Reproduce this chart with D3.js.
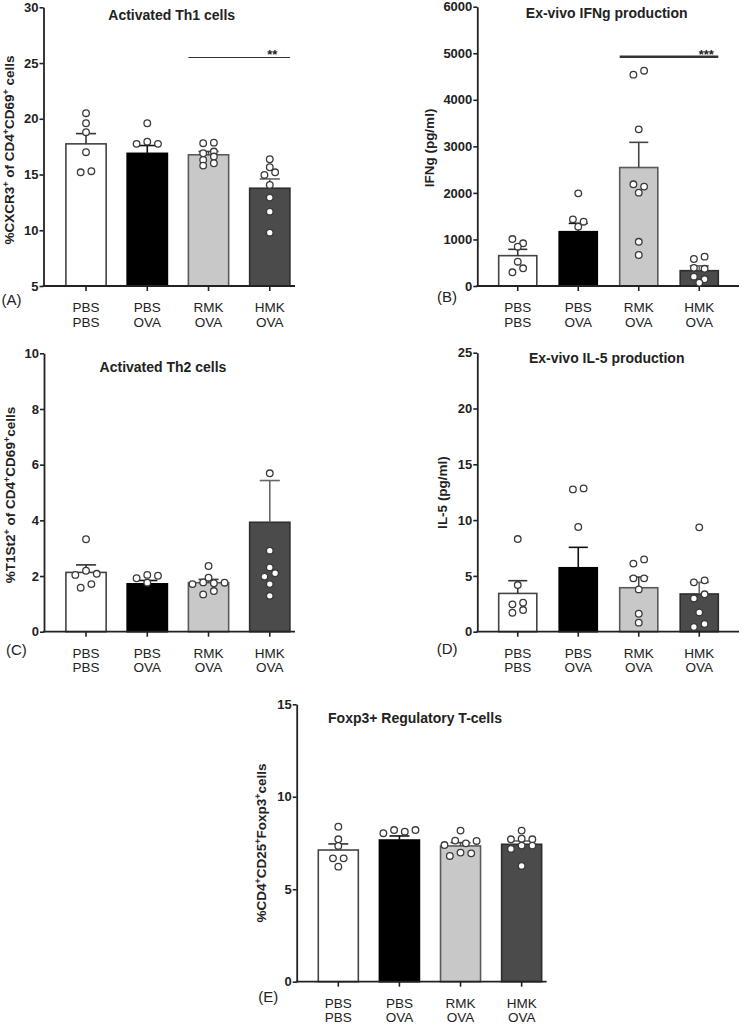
<!DOCTYPE html>
<html><head><meta charset="utf-8">
<script src="https://cdn.jsdelivr.net/npm/d3@7"></script>
<style>
body{margin:0;background:#fff}
svg{display:block}
text{font-family:"Liberation Sans",Arial,Helvetica,sans-serif;fill:#222}
</style>
</head><body>
<svg id="chart" width="742" height="1024"></svg>
<script>
// ---------- DATA ----------
const groupIds = ["PBS/PBS", "PBS/OVA", "RMK/OVA", "HMK/OVA"];
const groupsTop = ["PBS", "PBS", "RMK", "HMK"];
const groupsBottom = ["PBS", "OVA", "OVA", "OVA"];

// (A) Activated Th1 cells
const titleA = "Activated Th1 cells";
const yLabelA = "%CXCR3^+ of CD4^+CD69^+ cells";
const ticksA = [5, 10, 15, 20, 25, 30];
const meanA = [17.75, 16.9, 16.77, 13.77];
const semA = [0.92, 0.7, 0.3, 0.83];
const pointsA = [
  [20.5, 19.6, 18.8, 17.0, 15.2, 15.3],
  [19.6, 17.75, 17.95, 17.75],
  [17.81, 17.86, 16.91, 17.06, 16.31, 16.61, 15.80, 16.01],
  [16.37, 15.65, 14.96, 15.2, 14.07, 12.93, 11.67, 9.78]
];
const sigA = {from: "RMK/OVA", to: "HMK/OVA", value: 25.5, label: "**"};

// (B) Ex-vivo IFNg production
const titleB = "Ex-vivo IFNg production";
const yLabelB = "IFNg (pg/ml)";
const ticksB = [0, 1000, 2000, 3000, 4000, 5000, 6000];
const meanB = [652, 1167, 2545, 329];
const semB = [136, 179, 541, 105];
const pointsB = [
  [1009, 917, 844, 522, 294, 380],
  [1990, 1432, 1381, 1275],
  [4540, 4625, 3365, 2185, 2135, 2005, 950, 666],
  [580, 630, 390, 370, 200, 145, 70]
];
const sigB = {from: "RMK/OVA", to: "HMK/OVA", value: 4925, label: "***"};

// (C) Activated Th2 cells
const titleC = "Activated Th2 cells";
const yLabelC = "%T1St2^+ of CD4^+CD69^+cells";
const ticksC = [0, 2, 4, 6, 8, 10];
const meanC = [2.13, 1.72, 1.76, 3.93];
const semC = [0.27, 0.12, 0.12, 1.5];
const pointsC = [
  [3.32, 2.04, 2.19, 2.08, 1.58, 1.71],
  [1.92, 2.04, 2.01, 1.76],
  [2.36, 1.94, 1.71, 1.77, 1.74, 1.76, 1.34, 1.46],
  [5.69, 2.91, 2.31, 1.98, 2.10, 1.71, 1.29]
];

// (D) Ex-vivo IL-5 production
const titleD = "Ex-vivo IL-5 production";
const yLabelD = "IL-5 (pg/ml)";
const ticksD = [0, 5, 10, 15, 20, 25];
const meanD = [3.43, 5.73, 3.94, 3.38];
const semD = [1.14, 1.83, 0.96, 1.04];
const pointsD = [
  [8.30, 4.18, 2.45, 2.60, 1.70, 1.94],
  [12.75, 12.84, 9.38],
  [6.1, 6.48, 4.78, 4.78, 3.79, 1.61, 0.81],
  [9.35, 4.42, 4.60, 2.98, 3.35, 1.73, 0.42, 0.69]
];

// (E) Foxp3+ Regulatory T-cells
const titleE = "Foxp3+ Regulatory T-cells";
const yLabelE = "%CD4^+CD25^+Foxp3^+cells";
const ticksE = [0, 5, 10, 15];
const meanE = [7.12, 7.66, 7.34, 7.43];
const semE = [0.33, 0.22, 0.18, 0.18];
const pointsE = [
  [8.38, 7.70, 7.34, 6.67, 6.67, 6.22],
  [8.03, 8.20, 8.11, 8.20],
  [8.17, 7.39, 7.63, 7.48, 7.61, 6.80, 6.98, 6.94],
  [8.17, 7.70, 7.73, 7.70, 7.18, 7.36, 7.36, 6.26]
];

// ---------- STYLE ----------
const barFill = ["#ffffff", "#000000", "#c8c8c8", "#4b4b4b"];
const barStroke = ["#444444", "#000000", "#5a5a5a", "#2e2e2e"];
const errColor = ["#333333", "#111111", "#444444", "#666666"];
const axisColor = "#222";

const svg = d3.select("#chart");

function swarmOffsets(vals, yScale, spacing, thresh) {
  const idx = vals.map((v, i) => i).sort((a, b) => vals[b] - vals[a]);
  const rows = [];
  let cur = null;
  idx.forEach(i => {
    const py = yScale(vals[i]);
    if (!cur || py - cur.start > thresh) { cur = {start: py, items: []}; rows.push(cur); }
    cur.items.push(i);
  });
  const off = new Array(vals.length).fill(0);
  rows.forEach(r => {
    r.items.sort((a, b) => a - b);
    const n = r.items.length;
    r.items.forEach((i, k) => off[i] = (k - (n - 1) / 2) * spacing);
  });
  return off;
}

function addRichText(sel, str, supSize) {
  const parts = str.split("^+");
  let pendingDy = 0;
  parts.forEach((p, i) => {
    if (p.length) {
      const t = sel.append("tspan").text(p);
      if (pendingDy) t.attr("dy", pendingDy);
      pendingDy = 0;
    }
    if (i < parts.length - 1) {
      sel.append("tspan").attr("dy", -5 + pendingDy).attr("font-size", supSize).text("+");
      pendingDy = 5;
    }
  });
}

function drawPanel(p) {
  const g = svg.append("g");
  const base = p.ticks[0];
  const y = d3.scaleLinear().domain([base, p.ticks[p.ticks.length - 1]]).range([p.y0, p.y1]);
  const x = d3.scaleBand().domain(groupIds).range(p.band).paddingInner(p.pad).paddingOuter(p.pad / 2);
  const bw = x.bandwidth();

  // bars
  g.selectAll("rect.bar").data(p.mean).join("rect").attr("class", "bar")
    .attr("x", (d, i) => x(groupIds[i]))
    .attr("width", bw)
    .attr("y", d => y(d))
    .attr("height", d => y(base) - y(d))
    .attr("fill", (d, i) => barFill[i])
    .attr("stroke", (d, i) => barStroke[i])
    .attr("stroke-width", 1.6);

  // error bars (upper only)
  const eg = g.selectAll("g.err").data(p.mean).join("g").attr("class", "err")
    .attr("stroke", (d, i) => errColor[i]).attr("stroke-width", 1.6);
  eg.append("line")
    .attr("x1", (d, i) => x(groupIds[i]) + bw / 2).attr("x2", (d, i) => x(groupIds[i]) + bw / 2)
    .attr("y1", d => y(d)).attr("y2", (d, i) => y(d + p.sem[i]));
  eg.append("line")
    .attr("x1", (d, i) => x(groupIds[i]) + bw / 4).attr("x2", (d, i) => x(groupIds[i]) + bw * 3 / 4)
    .attr("y1", (d, i) => y(d + p.sem[i])).attr("y2", (d, i) => y(d + p.sem[i]));

  // axes
  const ya = d3.axisLeft(y).tickValues(p.ticks).tickSize(4).tickSizeOuter(0).tickPadding(1)
    .tickFormat(d3.format("d"));
  const yg = g.append("g").attr("transform", `translate(${p.ax},0)`).call(ya);
  yg.select(".domain").attr("stroke", axisColor).attr("stroke-width", 1.8);
  yg.selectAll(".tick line").attr("stroke", axisColor).attr("stroke-width", 1.6);
  yg.selectAll(".tick text").attr("font-size", 13).attr("font-weight", "bold")
    .attr("font-family", '"Liberation Sans",Arial,sans-serif').attr("fill", "#222");

  const xa = d3.axisBottom(x).tickSize(5).tickSizeOuter(0).tickFormat("");
  const xg = g.append("g").attr("transform", `translate(0,${p.y0})`).call(xa);
  xg.select(".domain").remove();
  xg.selectAll(".tick text").remove();
  xg.selectAll(".tick line").attr("stroke", axisColor).attr("stroke-width", 1.6);
  g.append("line").attr("x1", p.ax - 0.9).attr("x2", p.xEnd)
    .attr("y1", p.y0).attr("y2", p.y0).attr("stroke", axisColor).attr("stroke-width", 1.8);

  // category labels
  const cl = g.selectAll("text.cat").data(groupIds).join("text").attr("class", "cat")
    .attr("text-anchor", "middle").attr("font-size", 13.5).attr("fill", "#2a2a2a");
  cl.append("tspan").attr("x", d => x(d) + bw / 2).attr("y", p.y0 + 25.8).text((d, i) => groupsTop[i]);
  cl.append("tspan").attr("x", d => x(d) + bw / 2).attr("y", p.y0 + 40.5).text((d, i) => groupsBottom[i]);

  // dots
  p.points.forEach((vals, gi) => {
    const off = swarmOffsets(vals, y, 10.7, 4.6);
    const cx = x(groupIds[gi]) + bw / 2;
    g.selectAll(null).data(vals).join("circle")
      .attr("cx", (d, i) => cx + off[i]).attr("cy", d => y(d)).attr("r", 3.3)
      .attr("fill", "#fff").attr("stroke", "#3a3a3a").attr("stroke-width", 1.3);
  });

  // significance
  if (p.sig) {
    const sy = y(p.sig.value);
    g.append("line").attr("x1", x(p.sig.from)).attr("x2", x(p.sig.to) + bw)
      .attr("y1", sy).attr("y2", sy).attr("stroke", "#333").attr("stroke-width", p.sigWidth);
    g.append("text").attr("x", x(p.sig.to) + bw / 2 + p.sigDx).attr("y", sy + 2)
      .attr("text-anchor", "middle").attr("font-size", 13).attr("font-weight", "bold").text(p.sig.label);
  }

  // title
  g.append("text").attr("x", p.titleX).attr("y", p.titleY).attr("text-anchor", "middle")
    .attr("font-size", 14).attr("font-weight", "bold").text(p.title);

  // y label
  const yl = g.append("text").attr("text-anchor", "middle").attr("font-size", 13.5).attr("font-weight", "bold")
    .attr("transform", `translate(${p.ax - p.labelOff},${p.labelY}) rotate(-90)`);
  addRichText(yl, p.yLabel, 9);

  // panel tag
  g.append("text").attr("x", p.tagX).attr("y", p.tagY).attr("font-size", 15).text(p.tag);
}

drawPanel({title: titleA, yLabel: yLabelA, ticks: ticksA, mean: meanA, sem: semA, points: pointsA, sig: sigA,
  ax: 43.5, y0: 286, y1: 7.3, xEnd: 295, band: [55.4, 300.4], pad: 0.343,
  sigWidth: 1.1, sigDx: 2.5, titleX: 171.7, titleY: 19.5, labelOff: 29.5, labelY: 150, tag: "(A)", tagX: 1.5, tagY: 305});

drawPanel({title: titleB, yLabel: yLabelB, ticks: ticksB, mean: meanB, sem: semB, points: pointsB, sig: sigB,
  ax: 477.3, y0: 286, y1: 6.7, xEnd: 739, band: [487.5, 729.5], pad: 0.37,
  sigWidth: 2.6, sigDx: 7, titleX: 606.7, titleY: 18.3, labelOff: 43.5, labelY: 148, tag: "(B)", tagX: 437, tagY: 302});

drawPanel({title: titleC, yLabel: yLabelC, ticks: ticksC, mean: meanC, sem: semC, points: pointsC,
  ax: 44, y0: 631.7, y1: 353.3, xEnd: 295, band: [55.4, 300.4], pad: 0.343,
  titleX: 163, titleY: 371.5, labelOff: 29, labelY: 495, tag: "(C)", tagX: 6, tagY: 655});

drawPanel({title: titleD, yLabel: yLabelD, ticks: ticksD, mean: meanD, sem: semD, points: pointsD,
  ax: 477.3, y0: 631.7, y1: 352.7, xEnd: 739, band: [487.5, 729.5], pad: 0.37,
  titleX: 606.7, titleY: 363.3, labelOff: 30, labelY: 492.5, tag: "(D)", tagX: 436.7, tagY: 654});

drawPanel({title: titleE, yLabel: yLabelE, ticks: ticksE, mean: meanE, sem: semE, points: pointsE,
  ax: 296.7, y0: 981.7, y1: 704.3, xEnd: 546.7, band: [307.75, 552.2], pad: 0.345,
  titleX: 415, titleY: 723.3, labelOff: 30.5, labelY: 843, tag: "(E)", tagX: 258.3, tagY: 1002});
</script>
</body></html>
